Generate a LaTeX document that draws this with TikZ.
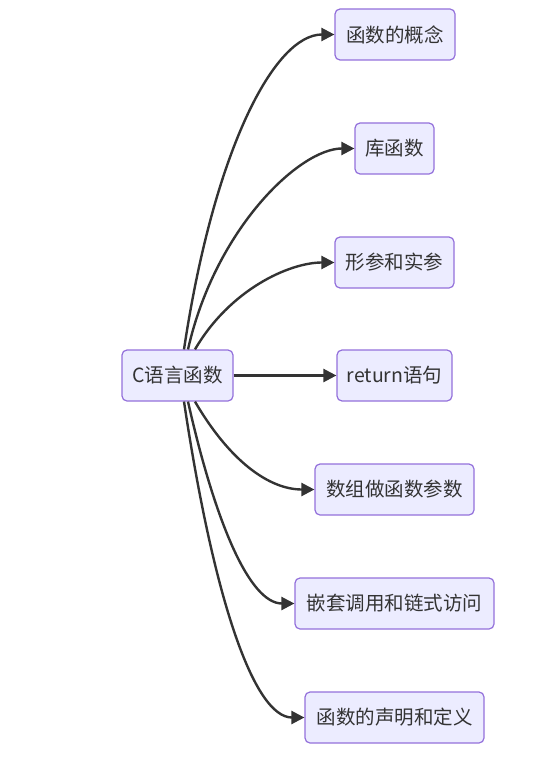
\documentclass[tikz,border=0pt]{standalone}
\usepackage{fontspec}
\setmainfont{Noto Sans CJK SC}
\usetikzlibrary{arrows.meta,calc}
\definecolor{nodefill}{HTML}{ECECFF}
\definecolor{nodeline}{HTML}{9370DB}
\definecolor{edgecol}{HTML}{333333}
\begin{document}
\begin{tikzpicture}[x=1pt,y=-1pt,
  box/.style={draw=nodeline,fill=nodefill,rounded corners=5pt,line width=1.2pt,
    minimum height=51pt,inner sep=0pt,text=edgecol,font=\fontsize{19.5}{22}\selectfont},
  edge/.style={draw=edgecol,line width=2.4pt,-{Triangle[length=13pt,width=13pt]}}]
\useasboundingbox (0,0) rectangle (554,757);
\node[box,minimum width=111pt] (c) at (177.5,375.5) {C语言函数};
\node[box,minimum width=120pt] (t1) at (395,34.5) {函数的概念};
\node[box,minimum width=79pt] (t2) at (394.5,148.5) {库函数};
\node[box,minimum width=119pt] (t3) at (394.5,262.5) {形参和实参};
\node[box,minimum width=115pt] (t4) at (394.5,375.5) {return语句};
\node[box,minimum width=159pt] (t5) at (394.5,489.5) {数组做函数参数};
\node[box,minimum width=199pt] (t6) at (394.5,603.5) {嵌套调用和链式访问};
\node[box,minimum width=179pt] (t7) at (394.5,717.5) {函数的声明和定义};
\draw[edge] ($(c.north)+(6.5,0)$) .. controls +(30,-200) and +(-60,0) .. (t1.west);
\draw[edge] ($(c.north)+(10.5,0)$) .. controls +(27,-120) and +(-55,0) .. (t2.west);
\draw[edge] ($(c.north)+(17.5,0)$) .. controls +(35,-60) and +(-45,0) .. (t3.west);
\draw[edge] (c.east) -- (t4.west);
\draw[edge] ($(c.south)+(17.5,0)$) .. controls +(35,60) and +(-45,0) .. (t5.west);
\draw[edge] ($(c.south)+(10.5,0)$) .. controls +(27,120) and +(-45,0) .. (t6.west);
\draw[edge] ($(c.south)+(6.5,0)$) .. controls +(30,200) and +(-50,0) .. (t7.west);
\end{tikzpicture}
\end{document}
